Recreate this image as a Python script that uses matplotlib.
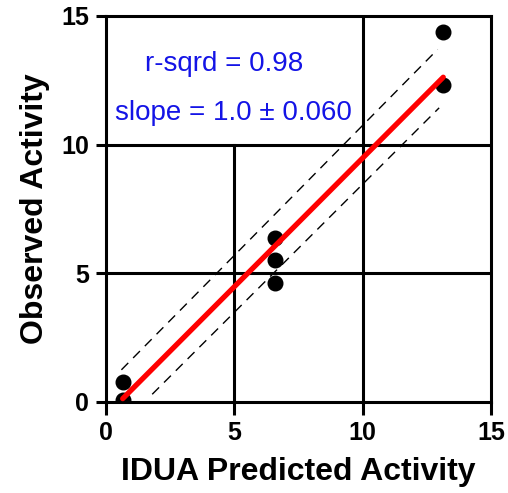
import numpy as np
import matplotlib
matplotlib.use('Agg')
import matplotlib.pyplot as plt

plt.rcParams['font.family'] = ['Liberation Sans', 'DejaVu Sans']

# predicted vs observed activity
predicted = [0.65, 0.65, 6.58, 6.58, 6.58, 13.14, 13.14]
observed = [0.79, 0.08, 6.39, 5.52, 4.62, 14.37, 12.33]

# fitted line
slope = 1.0
intercept = -0.52
fit_x = [0.65, 13.14]

# dashed band lines
upper_x = [0.6, 12.92]
upper_y = [1.25, 13.7]
lower_x = [1.8, 12.98]
lower_y = [0.3, 11.43]

ticks = [0, 5, 10, 15]

fig = plt.figure(figsize=(5.08, 4.93), dpi=100)
ax = fig.add_axes([0.2087, 0.1846, 0.7578, 0.7830])

# quadrant lines (x=5 line stops at y=10, under the stats text)
ax.plot([5, 5], [0, 10], color='black', lw=2.2, zorder=1)
ax.axvline(10, color='black', lw=2.2, zorder=1)
ax.axhline(5, color='black', lw=2.2, zorder=1)
ax.axhline(10, color='black', lw=2.2, zorder=1)

ax.plot(upper_x, upper_y, color='black', lw=1.0, ls=(0, (7, 5)), zorder=2)
ax.plot(lower_x, lower_y, color='black', lw=1.0, ls=(0, (7, 5)), zorder=2)

ax.plot(predicted, observed, 'o', color='black', ms=10.5, zorder=3)

fit_y = [slope * x + intercept for x in fit_x]
ax.plot(fit_x, fit_y, color='#ff0000', lw=3.8, solid_capstyle='round', zorder=4)

ax.text(4.6, 12.85, 'r-sqrd = 0.98', color='#1414e6', fontsize=20, ha='center', va='baseline')
ax.text(4.98, 10.97, 'slope = 1.0 \u00b1 0.060', color='#1414e6', fontsize=20, ha='center', va='baseline')

ax.set_xlim(0, 15)
ax.set_ylim(0, 15)
ax.set_xticks(ticks)
ax.set_yticks(ticks)
for s in ax.spines.values():
    s.set_linewidth(2.2)
ax.tick_params(axis='x', width=2.2, length=9, labelsize=18, pad=5)
ax.tick_params(axis='y', width=2.2, length=7, labelsize=18, pad=5)
for lab in ax.get_xticklabels() + ax.get_yticklabels():
    lab.set_fontweight('bold')

ax.set_xlabel('IDUA Predicted Activity', fontsize=23, fontweight='bold', labelpad=8)
ax.set_ylabel('Observed Activity', fontsize=23, fontweight='bold', labelpad=8)

fig.savefig('out.png', dpi=100)
